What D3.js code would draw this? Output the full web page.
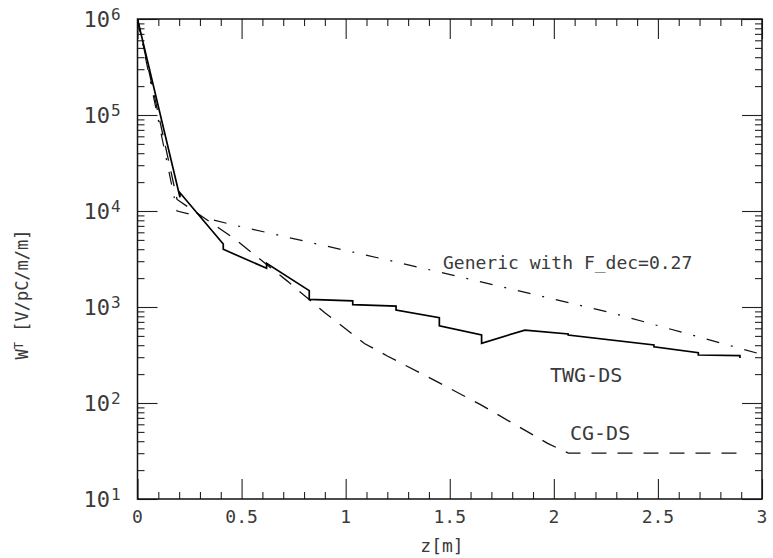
<!DOCTYPE html>
<html>
<head>
<meta charset="utf-8">
<script src="https://cdn.jsdelivr.net/npm/d3@7"></script>
<style>
  body { margin: 0; background: #fff; }
  svg { display: block; }
  text { font-family: 'DejaVu Sans Mono', monospace; fill: #3a3a3a; }
</style>
</head>
<body>
<div id="app"></div>
<script>
// TWG-DS (solid): z [m] and W_T [V/pC/m/m], steps at each cell boundary
const twgZ = [0, 0.204, 0.204, 0.412, 0.412, 0.62, 0.62, 0.825, 0.825, 1.034, 1.034, 1.242, 1.242,
  1.45, 1.45, 1.653, 1.653, 1.861, 2.069, 2.069, 2.481, 2.481, 2.694, 2.694, 2.894, 2.894];
const twgW = [1e6, 13900, 15500, 4530, 3990, 2530, 2850, 1480, 1200, 1160, 1060, 1023, 931,
  774, 638, 511, 419, 575, 524, 511, 402, 385, 334, 316, 311, 294];

// CG-DS (dashed)
const cgZ = [0, 0.19, 0.46, 0.72, 0.9, 1.09, 1.2, 1.45, 1.65, 1.97, 2.07, 2.9];
const cgW = [1e6, 13200, 5250, 1860, 870, 417, 309, 162, 95.5, 38, 30, 30];

// Generic with F_dec=0.27 (dash-dot)
const genZ = [0, 0.19, 0.46, 1.2, 1.65, 2.29, 2.86, 3.0];
const genW = [1e6, 10000, 7160, 3090, 1830, 855, 389, 320];

const xMajor = [0, 0.5, 1, 1.5, 2, 2.5, 3];
const xLabels = ['0', '0.5', '1', '1.5', '2', '2.5', '3'];
const yExps = [1, 2, 3, 4, 5, 6];

const width = 773, height = 558;
const pLeft = 137.5, pRight = 762, pTop = 19, pBottom = 499;

const x = d3.scaleLinear().domain([0, 3]).range([pLeft, pRight]);
const y = d3.scaleLog().domain([10, 1e6]).range([pBottom, pTop]);

const xMinor = d3.range(0, 31).map(i => i / 10).filter(v => !xMajor.some(m => Math.abs(m - v) < 1e-6));
const yMinor = [];
yExps.slice(0, -1).forEach(e => {
  for (let k = 2; k <= 9; k++) yMinor.push(k * Math.pow(10, e));
});
const yMajor = yExps.map(e => Math.pow(10, e));

const svg = d3.select('#app').append('svg')
  .attr('width', width)
  .attr('height', height);

svg.append('rect').attr('width', width).attr('height', height).attr('fill', '#fff');

const styleAxis = g => {
  g.select('.domain').remove();
  g.selectAll('.tick line').attr('stroke', '#222').attr('stroke-width', 1.1);
};

// ticks on all four sides, pointing inward
const tickSets = [
  [d3.axisBottom(x).tickValues(xMajor).tickSize(-20), `translate(0,${pBottom})`],
  [d3.axisBottom(x).tickValues(xMinor).tickSize(-7), `translate(0,${pBottom})`],
  [d3.axisTop(x).tickValues(xMajor).tickSize(-20), `translate(0,${pTop})`],
  [d3.axisTop(x).tickValues(xMinor).tickSize(-7), `translate(0,${pTop})`],
  [d3.axisLeft(y).tickValues(yMajor).tickSize(-20), `translate(${pLeft},0)`],
  [d3.axisLeft(y).tickValues(yMinor).tickSize(-7), `translate(${pLeft},0)`],
  [d3.axisRight(y).tickValues(yMajor).tickSize(-20), `translate(${pRight},0)`],
  [d3.axisRight(y).tickValues(yMinor).tickSize(-7), `translate(${pRight},0)`]
];
tickSets.forEach(([axis, tr]) => {
  svg.append('g')
    .attr('transform', tr)
    .call(axis.tickFormat(''))
    .call(styleAxis);
});

svg.append('rect')
  .attr('x', pLeft).attr('y', pTop)
  .attr('width', pRight - pLeft).attr('height', pBottom - pTop)
  .attr('fill', 'none')
  .attr('stroke', '#111')
  .attr('stroke-width', 1.5);

// x tick labels
svg.append('g').selectAll('text')
  .data(xMajor)
  .enter().append('text')
  .attr('x', d => x(d))
  .attr('y', pBottom + 24)
  .attr('text-anchor', 'middle')
  .attr('font-size', 18)
  .text((d, i) => xLabels[i]);

// y tick labels 10^n
const yl = svg.append('g').selectAll('g')
  .data(yExps)
  .enter().append('g');
yl.append('text')
  .attr('x', 110)
  .attr('y', d => y(Math.pow(10, d)) + 8)
  .attr('text-anchor', 'end')
  .attr('font-size', 22)
  .text('10');
yl.append('text')
  .attr('x', 111)
  .attr('y', d => y(Math.pow(10, d)) + 1)
  .attr('font-size', 16)
  .text(d => d);

// axis titles
svg.append('text')
  .attr('x', 442)
  .attr('y', 552)
  .attr('text-anchor', 'middle')
  .attr('font-size', 18)
  .text('z[m]');

const ylab = svg.append('text')
  .attr('transform', 'translate(28,294.5) rotate(-90)')
  .attr('text-anchor', 'middle')
  .attr('font-size', 17);
ylab.append('tspan').text('W');
ylab.append('tspan').attr('font-size', 12).attr('dy', -5).text('T');
ylab.append('tspan').attr('dy', 5).text(' [V/pC/m/m]');

// curves
svg.append('clipPath').attr('id', 'plot')
  .append('rect')
  .attr('x', pLeft).attr('y', pTop)
  .attr('width', pRight - pLeft).attr('height', pBottom - pTop);

const line = d3.line().x(d => x(d[0])).y(d => y(d[1]));
const curves = svg.append('g').attr('clip-path', 'url(#plot)');

curves.append('path')
  .datum(genZ.map((z, i) => [z, genW[i]]))
  .attr('d', line)
  .attr('fill', 'none')
  .attr('stroke', '#111')
  .attr('stroke-width', 1.2)
  .attr('stroke-dasharray', '13,12,2,12');

curves.append('path')
  .datum(cgZ.map((z, i) => [z, cgW[i]]))
  .attr('d', line)
  .attr('fill', 'none')
  .attr('stroke', '#111')
  .attr('stroke-width', 1.3)
  .attr('stroke-dasharray', '15,11');

curves.append('path')
  .datum(twgZ.map((z, i) => [z, twgW[i]]))
  .attr('d', line)
  .attr('fill', 'none')
  .attr('stroke', '#000')
  .attr('stroke-width', 1.7)
  .attr('stroke-linejoin', 'miter');

// curve labels
svg.append('text').attr('x', 443).attr('y', 269).attr('font-size', 18)
  .text('Generic with F_dec=0.27');
svg.append('text').attr('x', 550).attr('y', 382).attr('font-size', 20)
  .text('TWG-DS');
svg.append('text').attr('x', 570).attr('y', 440).attr('font-size', 20)
  .text('CG-DS');
</script>
</body>
</html>
